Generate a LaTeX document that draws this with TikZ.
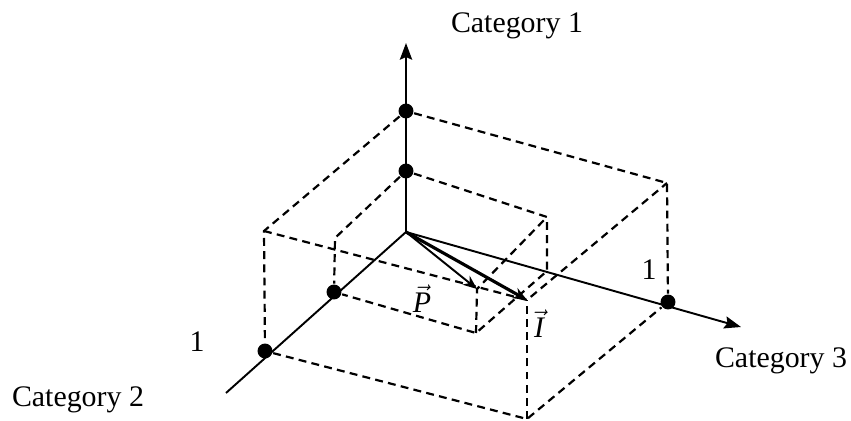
\documentclass[tikz,border=0pt]{standalone}
\usepackage{fontspec}
\setmainfont{Liberation Serif}
\usetikzlibrary{arrows.meta}

\tikzset{
  dot/.style={circle,fill,inner sep=0pt,minimum size=8.5pt},
  box/.style={line width=1.25pt,dash pattern=on 4.5pt off 3pt},
  lbl/.style={inner sep=0pt,anchor=base,font=\fontsize{17}{20}\selectfont},
}

\begin{document}
\begin{tikzpicture}[x=0.02cm,y=-0.02cm,>={Stealth[length=9.5pt,width=7pt,inset=1.5pt]},line width=1.1pt]
        \useasboundingbox (0,0) rectangle (851,421);

        % Nodes
        \coordinate (O) at (406,232);
        \coordinate (t1) at (406,43);
        \coordinate (t2) at (226,393);
        \coordinate (t3) at (741,327);
        \node[dot] (a1) at (406,111) {};
        \node[dot] (ah) at (406,171) {};
        \node[dot] (b1) at (265,351) {};
        \node[dot] (bh) at (334,292) {};
        \node[dot] (c1) at (668,302) {};
        \coordinate (ab) at (264,231);
        \coordinate (ac) at (667,183);
        \coordinate (bc) at (527,419);
        \coordinate (abc) at (527,300);
        \coordinate (qab) at (335,238);
        \coordinate (qac) at (547,217);
        \coordinate (qc) at (547,271);
        \coordinate (qbc) at (476,333);
        \coordinate (pt) at (477,289);

        % Outer box
        \draw[box] (a1) -- (ab) -- (b1);
        \draw[box] (a1) -- (ac) -- (c1);
        \draw[box] (b1) -- (bc) -- (c1);
        \draw[box] (bc) -- (abc);
        \draw[box] (ab) -- (abc) -- (ac);

        % Inner box
        \draw[box] (ah) -- (qab) -- (bh);
        \draw[box] (ah) -- (qac) -- (qc) -- (qbc) -- (bh);
        \draw[box] (qbc) -- (pt) -- (qac);

        % Axes
        \draw[->] (O) -- (t1);
        \draw (O) -- (t2);
        \draw[->] (O) -- (t3);

        % Vectors
        \draw[->,>={Stealth[length=8pt,width=6.5pt]}] (O) -- (pt);
        \draw[->,line width=1.8pt,>={Stealth[length=8pt,width=6.5pt]}] (O) -- (abc);

        % Labels
        \node[lbl] (cat1) at (517,33) {Category 1};
        \node[lbl] (cat2) at (78,407) {Category 2};
        \node[lbl] (cat3) at (781,368) {Category 3};
        \node[lbl] (one2) at (197,352) {1};
        \node[lbl] (one3) at (649,280) {1};
        \node[lbl] (vp) at (422,313) {$\vec{\textit{P}}$};
        \node[lbl] (vi) at (539,338) {$\vec{\textit{I}}$};
\end{tikzpicture}
\end{document}
